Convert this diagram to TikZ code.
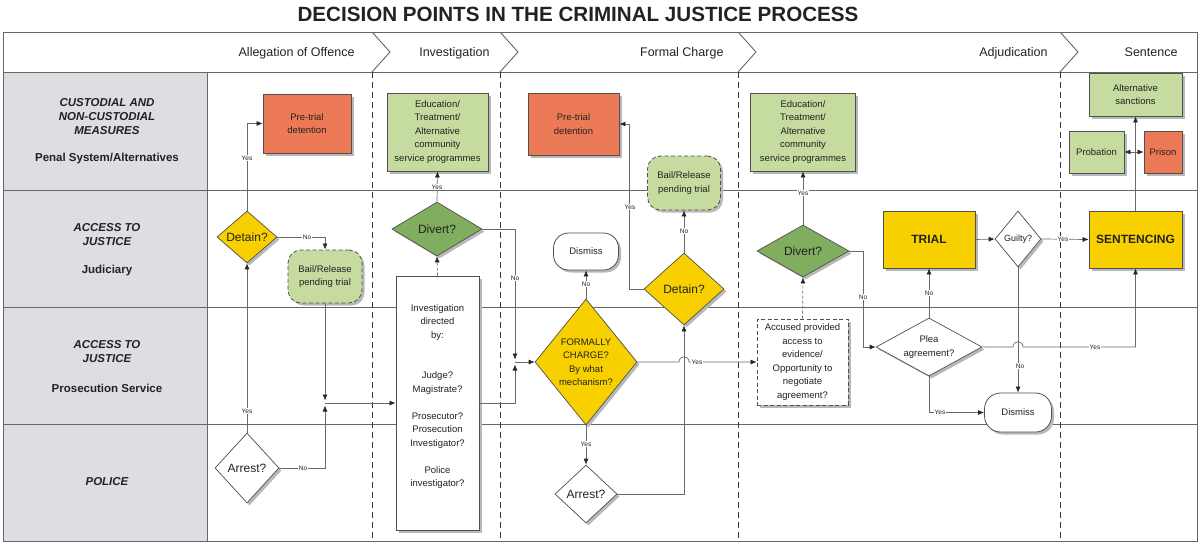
\documentclass[tikz,border=0pt]{standalone}
\usepackage{fontspec}
\setmainfont{Liberation Sans}
\usetikzlibrary{shapes.geometric,arrows.meta,shadows}
\definecolor{colgray}{HTML}{DDDEE1}
\definecolor{orng}{HTML}{ED7A56}
\definecolor{lgrn}{HTML}{C6DB9F}
\definecolor{dgrn}{HTML}{80AD5E}
\definecolor{yel}{HTML}{F8D000}
\definecolor{edge}{HTML}{505050}
\definecolor{lnc}{HTML}{6A6A6A}
\definecolor{txt}{HTML}{222222}
\begin{document}
\begin{tikzpicture}[x=1pt,y=-1pt,
  every node/.style={text=txt},
  norm/.style={font=\fontsize{9.5}{13.5}\selectfont},
  shd/.style={drop shadow={shadow xshift=2.5pt,shadow yshift=-2.5pt,fill=black!28,opacity=1}},
  box/.style={draw=edge,line width=0.8pt,align=center,inner sep=0pt,shd,norm},
  dashbox/.style={box,dash pattern=on 4pt off 2.5pt},
  dia/.style={diamond,draw=edge,line width=0.7pt,align=center,inner sep=0pt,shd},
  big/.style={font=\fontsize{12}{14}\selectfont},
  bigb/.style={font=\fontsize{12}{14}\selectfont\bfseries},
  yn/.style={fill=white,inner sep=0.6pt,font=\fontsize{6.5}{7}\selectfont},
  con/.style={draw=lnc,line width=0.7pt},
  arr/.style={con,-{Latex[length=6pt,width=5pt,color=black!85]}},
  darr/.style={arr,dash pattern=on 3pt off 2pt},
  phase/.style={draw=black!80,line width=1pt,dash pattern=on 6pt off 4pt},
  frame/.style={draw=black!60,line width=0.9pt},
  lh/.style={align=center,font=\fontsize{11.5}{14}\selectfont\bfseries\itshape},
  lsub/.style={align=center,font=\fontsize{11.5}{14}\selectfont\bfseries},
  hd/.style={anchor=base east,font=\fontsize{12.5}{14}\selectfont},
]
\useasboundingbox (0,0) rectangle (1198,543);
\node[font=\fontsize{20.6}{24}\selectfont\bfseries] (title) at (578,14) {DECISION POINTS IN THE CRIMINAL JUSTICE PROCESS};
% background and frame
\fill[colgray] (3,72) rectangle (207,541);
\draw[frame] (3,32) rectangle (1197,541);
\foreach \yy in {72,190,307,424} \draw[frame] (3,\yy) -- (1197,\yy);
\draw[frame] (207,72) -- (207,541);
\foreach \xx in {372,500,738,1060} {
  \draw[frame] (\xx,32) -- (\xx+18,52) -- (\xx,72);
  \draw[phase] (\xx,72) -- (\xx,541);
}
% headers
\node[hd] (h1) at (358,56.5) {Allegation of Offence};
\node[hd] (h2) at (493,56.5) {Investigation};
\node[hd] (h3) at (727,56.5) {Formal Charge};
\node[hd] (h4) at (1051,56.5) {Adjudication};
\node[hd] (h5) at (1181,56.5) {Sentence};
% lane labels
\node[lh] (c1) at (107,117) {CUSTODIAL AND\\NON-CUSTODIAL\\MEASURES};
\node[lsub] (c1s) at (107,159) {Penal System/Alternatives};
\node[lh] (c2) at (107,235) {ACCESS TO\\JUSTICE};
\node[lsub] (c2s) at (107,271) {Judiciary};
\node[lh] (c3) at (107,352) {ACCESS TO\\JUSTICE};
\node[lsub] (c3s) at (107,388) {Prosecution Service};
\node[lh] (c4) at (107,482) {POLICE};
% boxes
\node[box,fill=orng,minimum width=88,minimum height=59] (pt1) at (307,123.5) {Pre-trial\\detention};
\node[box,fill=lgrn,minimum width=101,minimum height=78] (edu1) at (437.5,132) {Education/\\Treatment/\\Alternative\\community\\service programmes};
\node[box,fill=orng,minimum width=91,minimum height=62] (pt2) at (573.5,124) {Pre-trial\\detention};
\node[dashbox,fill=lgrn,rounded corners=13pt,minimum width=73,minimum height=54] (bail2) at (684,183) {Bail/Release\\pending trial};
\node[box,fill=white,rounded corners=15pt,minimum width=65,minimum height=37] (dis1) at (586,251.5) {Dismiss};
\node[box,fill=lgrn,minimum width=105,minimum height=78] (edu2) at (803,132) {Education/\\Treatment/\\Alternative\\community\\service programmes};
\node[box,fill=lgrn,minimum width=93,minimum height=43] (alt) at (1135.5,94.5) {Alternative\\sanctions};
\node[box,fill=lgrn,minimum width=55,minimum height=42] (prob) at (1096.5,152) {Probation};
\node[box,fill=orng,minimum width=38,minimum height=42] (prison) at (1163,152) {Prison};
\node[dashbox,fill=lgrn,rounded corners=13pt,minimum width=74,minimum height=53] (bail1) at (325,276.5) {Bail/Release\\pending trial};
\node[box,fill=white,minimum width=83,minimum height=254] (inv) at (437.5,403) {};
\node[norm,align=center] (invt) at (437.5,396.5) {Investigation\\directed\\by:\\[27pt]Judge?\\Magistrate?\\[13.5pt]Prosecutor?\\Prosecution\\Investigator?\\[13.5pt]Police\\investigator?};
\node[dashbox,fill=white,minimum width=91,minimum height=86] (acc) at (802.5,362) {Accused provided\\access to\\evidence/\\Opportunity to\\negotiate\\agreement?};
\node[box,bigb,fill=yel,minimum width=92,minimum height=57] (trial) at (929,239.5) {TRIAL};
\node[box,bigb,fill=yel,minimum width=93,minimum height=57] (sent) at (1135.5,239.5) {SENTENCING};
\node[box,fill=white,rounded corners=16pt,minimum width=67,minimum height=39] (dis2) at (1018,412.5) {Dismiss};
% diamonds
\node[dia,big,fill=yel,minimum width=60,minimum height=52,shape aspect=1.15] (det1) at (247,237) {Detain?};
\node[dia,big,fill=white,minimum width=64,minimum height=70,shape aspect=0.91] (arr1) at (247,468) {Arrest?};
\node[dia,big,fill=dgrn,minimum width=90,minimum height=54,shape aspect=1.67] (div1) at (437,229) {Divert?};
\node[dia,norm,fill=yel,minimum width=102,minimum height=126,shape aspect=0.81] (fc) at (586,362) {FORMALLY\\CHARGE?\\By what\\mechanism?};
\node[dia,big,fill=yel,minimum width=80,minimum height=72,shape aspect=1.11] (det2) at (684,289) {Detain?};
\node[dia,big,fill=white,minimum width=62,minimum height=58,shape aspect=1.07] (arr2) at (586,494) {Arrest?};
\node[dia,big,fill=dgrn,minimum width=92,minimum height=52,shape aspect=1.77] (div2) at (803,251) {Divert?};
\node[dia,font=\fontsize{9}{11}\selectfont,fill=white,minimum width=46,minimum height=56,shape aspect=0.82] (guilty) at (1018,239) {Guilty?};
\node[dia,norm,fill=white,minimum width=106,minimum height=58,shape aspect=1.83] (plea) at (929,347) {Plea\\agreement?};
% connectors
\coordinate (j1) at (325,403);
\coordinate (j1a) at (325,400.5);
\coordinate (j1b) at (325,405.5);
\coordinate (j2) at (515,362);
\coordinate (j2a) at (515,359.5);
\coordinate (j2b) at (515,364.5);
\draw[arr] (det1.north) |- (pt1.west);
\draw[arr] (det1.east) -| (bail1.north);
\draw[arr] (arr1.north) -- (det1.south);
\draw[arr] (bail1.south) -- (j1a);
\draw[arr] (arr1.east) -| (j1b);
\draw[arr] (j1) -- (inv.west);
\draw[darr] (inv.north) -- (div1.south);
\draw[arr] (div1.north) -- (edu1.south);
\draw[arr] (div1.east) -| (j2a);
\draw[arr] (inv.east) -| (j2b);
\draw[arr] (j2) -- (fc.west);
\draw[arr] (fc.north) -- (dis1.south);
\draw[arr] (fc.south) -- (arr2.north);
\draw[arr] (arr2.east) -| (det2.south);
\draw[arr] (det2.north) -- (bail2.south);
\draw[arr] (det2.west) -- ++(-14,0) |- (pt2.east);
\draw[arr] (fc.east) -- (679,362) .. controls (679,355) and (689,355) .. (689,362) -- (acc.west);
\draw[darr] (acc.north) -- (div2.south);
\draw[arr] (div2.north) -- (edu2.south);
\draw[arr] (div2.east) -- ++(14,0) |- (plea.west);
\draw[arr] (plea.north) -- (trial.south);
\draw[arr] (plea.east) -- (1013,347) .. controls (1013,340) and (1023,340) .. (1023,347) -| (sent.south);
\draw[arr] (plea.south) |- (dis2.west);
\draw[arr] (trial.east) -- (guilty.west);
\draw[arr] (guilty.east) -- (sent.west);
\draw[arr] (guilty.south) -- (dis2.north);
\draw[arr] (sent.north) -- (alt.south);
\coordinate (j3) at (sent.north |- prob.east);
\draw[arr] (j3) -- (prob.east);
\draw[arr] (j3) -- (prison.west);
% yes/no labels
\node[yn] (y1) at (247,158) {Yes};
\node[yn] (n1) at (307,237) {No};
\node[yn] (y2) at (247,411) {Yes};
\node[yn] (n2) at (303,468) {No};
\node[yn] (y3) at (437,187) {Yes};
\node[yn] (n3) at (515,278) {No};
\node[yn] (n4) at (586,284) {No};
\node[yn] (y4) at (586,444) {Yes};
\node[yn] (y5) at (697,362) {Yes};
\node[yn] (n5) at (684,231) {No};
\node[yn] (y6) at (630,207) {Yes};
\node[yn] (y7) at (803,193) {Yes};
\node[yn] (n6) at (863,297) {No};
\node[yn] (n7) at (929,293) {No};
\node[yn] (y8) at (1095,347) {Yes};
\node[yn] (y9) at (940,412.5) {Yes};
\node[yn] (y10) at (1063,239) {Yes};
\node[yn] (n8) at (1020,366) {No};
\end{tikzpicture}
\end{document}
